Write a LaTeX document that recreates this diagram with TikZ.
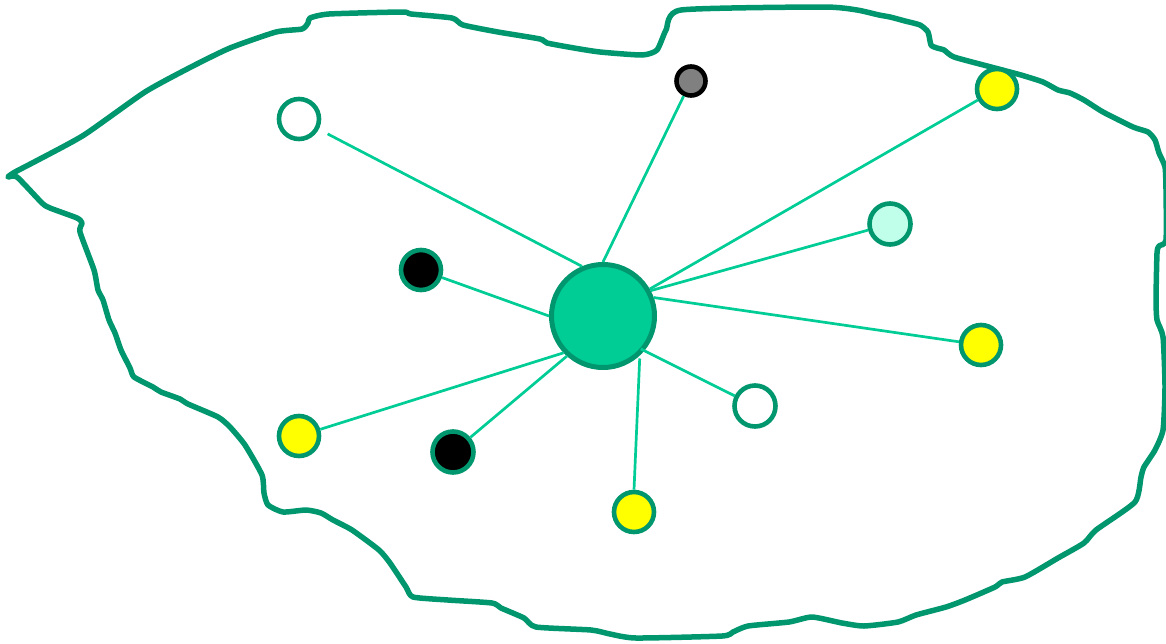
\documentclass[tikz,border=0pt]{standalone}
\definecolor{dkgreen}{RGB}{0,150,110}
\definecolor{ltgreen}{RGB}{0,204,150}
\definecolor{mint}{RGB}{192,255,234}
\definecolor{yel}{RGB}{255,255,0}
\definecolor{gr}{RGB}{128,128,128}
\tikzset{
  outline/.style={draw=dkgreen, line width=5.5pt, line join=round, line cap=round},
  link/.style={draw=ltgreen, line width=2.7pt},
  dot/.style={circle, draw=dkgreen, line width=4.6pt, minimum size=40pt, inner sep=0pt},
  hub/.style={circle, draw=dkgreen, fill=ltgreen, line width=5pt, minimum size=103pt, inner sep=0pt},
}
\begin{document}
\begin{tikzpicture}[x=1pt, y=-1pt]
\useasboundingbox (0,0) rectangle (1166,643);
% outline blob
\draw[outline] plot[smooth cycle, tension=0.35] coordinates {
 (8,177) (15,172) (38,160) (84,135) (145,92) (191,67) (230,48) (276,32) (302,29)
 (308,23) (310,18) (329,14) (402,12) (411,14) (452,18) (463,25) (498,32) (540,39)
 (547,43) (574,48) (600,52) (642,55) (657,50) (666,30) (681,10) (823,7) (857,10)
 (879,15) (890,17) (905,21) (920,25) (928,32) (931,45) (937,48) (944,50) (954,57)
 (991,67) (1021,75) (1043,82) (1058,90) (1070,93) (1084,100) (1103,112) (1133,127)
 (1148,132) (1155,140) (1159,153) (1165,167) (1166,190) (1166,240) (1159,246)
 (1157,253) (1156,300) (1157,320) (1163,337) (1165,387) (1163,430) (1155,450)
 (1144,467) (1141,477) (1135,502) (1096,530) (1084,543) (1058,558) (1025,577)
 (1002,582) (995,587) (965,600) (946,607) (916,615) (898,622) (864,626) (842,623)
 (812,617) (789,622) (748,626) (733,632) (722,636) (636,638) (610,634) (591,630)
 (536,627) (524,618) (501,608) (492,603) (448,600) (413,597) (406,587) (390,563)
 (379,550) (352,530) (333,520) (321,513) (306,510) (283,512) (268,505) (264,493)
 (262,475) (245,445) (230,427) (218,417) (188,404) (180,399) (161,392) (153,387)
 (134,377) (130,368) (121,350) (115,333) (109,320) (103,300) (98,290) (94,270)
 (80,232) (82,223) (77,218) (50,208) (42,203) (17,177)
};
% nodes
\node[dot, fill=white] (e1) at (299,119) {};
\node[dot, fill=black] (b1) at (421,270) {};
\node[dot, draw=black, fill=gr, minimum size=29pt] (g1) at (691,81) {};
\node[dot, fill=yel] (y1) at (997,89) {};
\node[dot, fill=mint, minimum size=41pt] (m1) at (890,224) {};
\node[dot, fill=yel] (y2) at (981,345) {};
\node[dot, fill=white, minimum size=41pt] (e2) at (755,406) {};
\node[dot, fill=yel] (y3) at (634,512) {};
\node[dot, fill=black, minimum size=41pt] (b2) at (453,452) {};
\node[dot, fill=yel] (y4) at (299,436) {};
\node[hub] (c) at (603,316) {};
% links
\draw[link, shorten >=10pt] (c.113) -- (e1);
\draw[link] (c.180) -- (b1);
\draw[link] (c.90) -- (g1);
\draw[link] (c.30) -- (y1);
\draw[link] (c.28) -- (m1);
\draw[link] (c.20) -- (y2);
\draw[link, shorten <=-4pt] (c.-40) -- (e2);
\draw[link, shorten <=3pt] (c.-47) -- (y3.north);
\draw[link] (c.228) -- (b2);
\draw[link] (c.223) -- (y4);
\end{tikzpicture}
\end{document}
